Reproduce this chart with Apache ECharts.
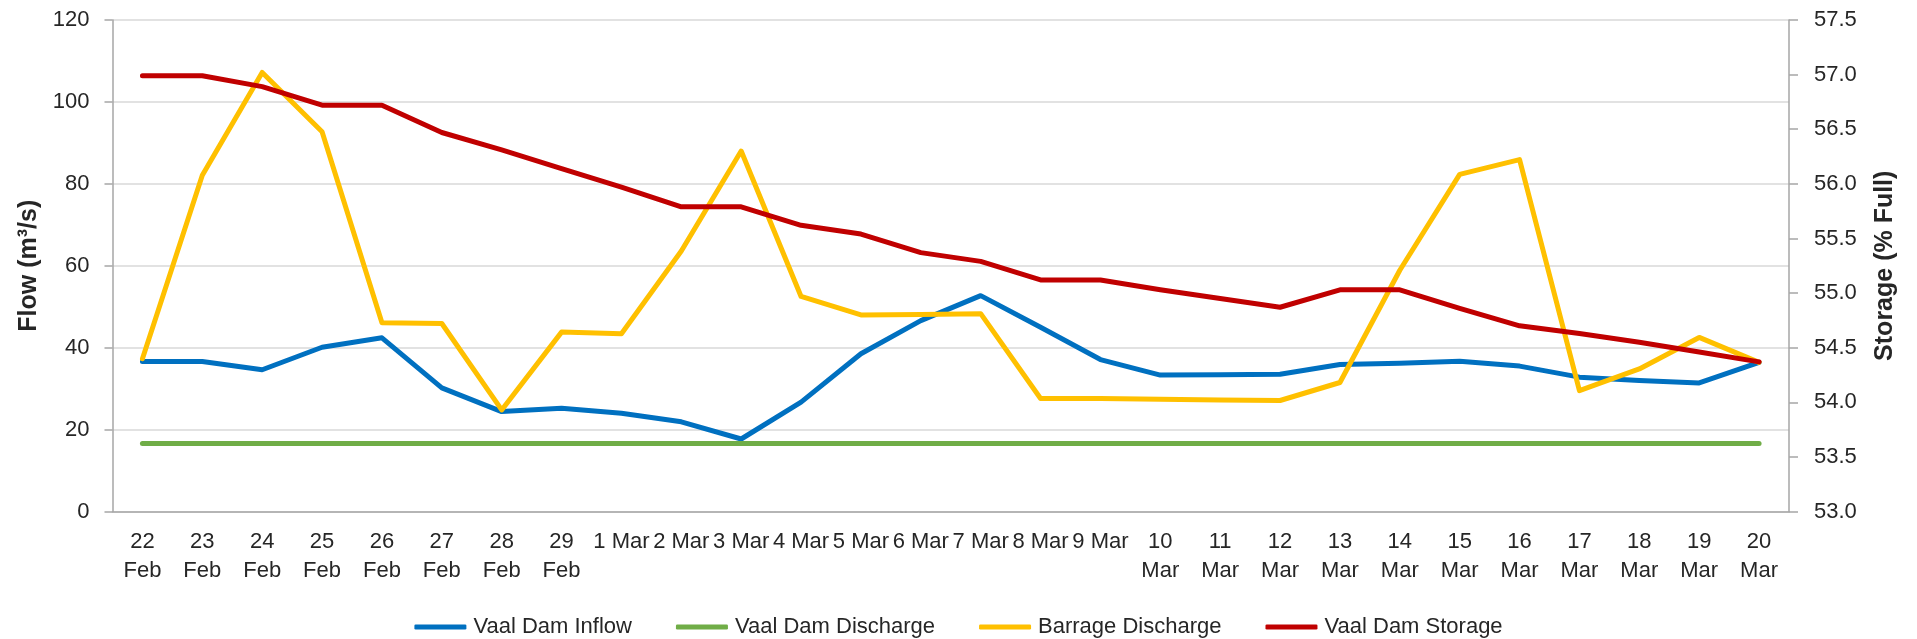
<!DOCTYPE html>
<html>
<head>
    <meta charset="utf-8">
    <title>Vaal Dam</title>
    <script src="https://cdn.jsdelivr.net/npm/echarts@6/dist/echarts.min.js"></script>
    <style>
        * {
            margin: 0;
            padding: 0
        }

        html, body {
            width: 100%;
            height: 100%;
            background: #fff;
        }

        #main {
            width: 1917px;
            height: 639px;
        }
    </style>
</head>
<body>
<div id="main"></div>

<script type="text/javascript">
    // x axis labels (Excel wraps the long ones)
    var days = ['22\nFeb', '23\nFeb', '24\nFeb', '25\nFeb', '26\nFeb', '27\nFeb', '28\nFeb', '29\nFeb',
        '1 Mar', '2 Mar', '3 Mar', '4 Mar', '5 Mar', '6 Mar', '7 Mar', '8 Mar', '9 Mar',
        '10\nMar', '11\nMar', '12\nMar', '13\nMar', '14\nMar', '15\nMar', '16\nMar', '17\nMar',
        '18\nMar', '19\nMar', '20\nMar'];

    // flow, m3/s
    var inflow = [36.6, 36.6, 34.6, 40.1, 42.4, 30.2, 24.4, 25.2, 24.0, 21.9, 17.7, 26.7, 38.5, 46.6,
        52.7, 45.0, 37.1, 33.3, 33.4, 33.5, 35.9, 36.2, 36.7, 35.5, 32.8, 32.0, 31.4, 36.4];
    var discharge = [16.6, 16.6, 16.6, 16.6, 16.6, 16.6, 16.6, 16.6, 16.6, 16.6, 16.6, 16.6, 16.6, 16.6,
        16.6, 16.6, 16.6, 16.6, 16.6, 16.6, 16.6, 16.6, 16.6, 16.6, 16.6, 16.6, 16.6, 16.6];
    var barrage = [37.3, 82.1, 107.2, 92.7, 46.1, 45.9, 24.8, 43.8, 43.4, 63.6, 88.0, 52.5, 48.0, 48.1,
        48.3, 27.6, 27.6, 27.4, 27.2, 27.1, 31.5, 58.9, 82.3, 85.9, 29.5, 34.8, 42.5, 36.4];

    // storage, % full
    var storage = [56.99, 56.99, 56.89, 56.72, 56.72, 56.47, 56.31, 56.14, 55.97, 55.79, 55.79, 55.62,
        55.54, 55.37, 55.29, 55.12, 55.12, 55.03, 54.95, 54.87, 55.03, 55.03, 54.86, 54.70, 54.63,
        54.55, 54.46, 54.37];

    var font = "'Liberation Sans', Arial, sans-serif";
    var txt = '#262626';
    var axisGrey = '#a6a6a6';

    function line(name, data, color, yIdx) {
        return {
            name: name,
            type: 'line',
            data: data,
            yAxisIndex: yIdx,
            symbol: 'none',
            smooth: false,
            lineStyle: {width: 5, color: color, cap: 'round', join: 'round'},
            itemStyle: {color: color}
        };
    }

    var myChart = echarts.init(document.getElementById('main'));
    myChart.setOption({
        animation: false,
        textStyle: {fontFamily: font},
        grid: {left: 112.5, right: 128, top: 20, bottom: 127.5},
        legend: {
            top: 611,
            left: 'center',
            icon: 'roundRect',
            itemWidth: 52,
            itemHeight: 5,
            itemGap: 44,
            textStyle: {fontSize: 22, color: txt, fontFamily: font, padding: [0, 0, 0, 2]},
            data: ['Vaal Dam Inflow', 'Vaal Dam Discharge', 'Barrage Discharge', 'Vaal Dam Storage']
        },
        xAxis: {
            type: 'category',
            data: days,
            boundaryGap: true,
            axisLine: {lineStyle: {color: axisGrey, width: 1.5}},
            axisTick: {length: 8, lineStyle: {color: axisGrey, width: 1.5}},
            axisLabel: {interval: 0, fontSize: 22, lineHeight: 29, color: txt, margin: 16, fontFamily: font}
        },
        yAxis: [{
            type: 'value',
            min: 0,
            max: 120,
            interval: 20,
            name: 'Flow (m\u00b3/s)',
            nameLocation: 'middle',
            nameGap: 63,
            nameTextStyle: {fontSize: 25, fontWeight: 'bold', color: txt, fontFamily: font},
            axisLine: {show: true, lineStyle: {color: axisGrey, width: 1.5}},
            axisTick: {show: true, length: 8, lineStyle: {color: axisGrey, width: 1.5}},
            axisLabel: {fontSize: 22, color: txt, margin: 23, fontFamily: font},
            splitLine: {lineStyle: {color: '#d9d9d9', width: 1.5}}
        }, {
            type: 'value',
            min: 53,
            max: 57.5,
            interval: 0.5,
            name: 'Storage (% Full)',
            nameLocation: 'middle',
            nameGap: 84,
            nameTextStyle: {fontSize: 25, fontWeight: 'bold', color: txt, fontFamily: font},
            alignTicks: false,
            axisLine: {show: true, lineStyle: {color: axisGrey, width: 1.5}},
            axisTick: {show: true, length: 9, lineStyle: {color: axisGrey, width: 1.5}},
            axisLabel: {
                fontSize: 22, color: txt, margin: 25, fontFamily: font,
                formatter: function (v) {
                    return v.toFixed(1);
                }
            },
            splitLine: {show: false}
        }],
        series: [
            line('Vaal Dam Inflow', inflow, '#0070C0', 0),
            line('Vaal Dam Discharge', discharge, '#70AD47', 0),
            line('Barrage Discharge', barrage, '#FFC000', 0),
            line('Vaal Dam Storage', storage, '#C00000', 1)
        ]
    });
</script>
</body>
</html>
